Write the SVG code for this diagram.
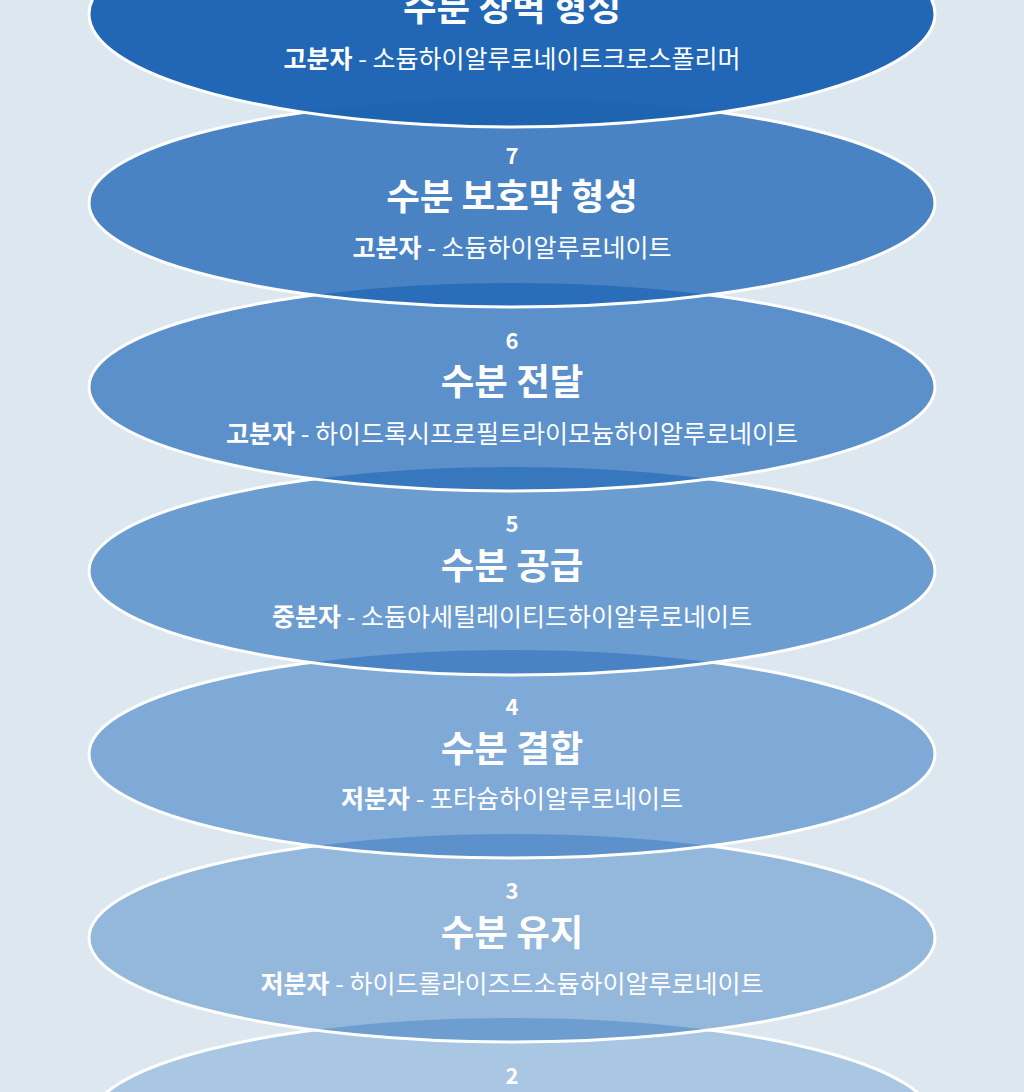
<svg xmlns="http://www.w3.org/2000/svg" width="1024" height="1092" viewBox="0 0 1024 1092">
<style>
.ring{stroke:#ffffff;stroke-width:3}
.edge{fill:none;stroke:#ffffff;stroke-width:3}
text{font-family:"Noto Sans CJK KR","Noto Sans",sans-serif;fill:#ffffff;text-anchor:middle;dominant-baseline:central}
.num{font-size:22px;font-weight:700}
.title{font-size:36.5px;font-weight:700}
.sub{font-size:25px;font-weight:400}
.b{font-weight:700}
</style>
<defs>
<clipPath id="c8"><ellipse cx="512" cy="14" rx="423" ry="113"/></clipPath>
<clipPath id="c7"><ellipse cx="512" cy="203" rx="423" ry="104"/></clipPath>
<clipPath id="c6"><ellipse cx="512" cy="387" rx="423" ry="104"/></clipPath>
<clipPath id="c5"><ellipse cx="512" cy="571" rx="423" ry="104"/></clipPath>
<clipPath id="c4"><ellipse cx="512" cy="754" rx="423" ry="104"/></clipPath>
<clipPath id="c3"><ellipse cx="512" cy="938" rx="423" ry="104"/></clipPath>
</defs>
<rect width="1024" height="1092" fill="#dde7ef"/>

<g id="node2">
<ellipse class="ring" cx="512" cy="1122" rx="423" ry="104" fill="#a9c6e2"/>
<text class="num" x="512" y="1074">2</text>
</g>

<g id="node3">
<ellipse cx="512" cy="938" rx="423" ry="104" fill="#94b7dc"/>
<ellipse cx="512" cy="1122" rx="423" ry="104" fill="#6d9ecf" clip-path="url(#c3)"/>
<ellipse class="edge" cx="512" cy="938" rx="423" ry="104"/>
<text class="num" x="512" y="889">3</text>
<text class="title" x="512" y="930">수분 유지</text>
<text class="sub" x="512" y="982"><tspan class="b">저분자</tspan> - 하이드롤라이즈드소듐하이알루로네이트</text>
</g>

<g id="node4">
<ellipse cx="512" cy="754" rx="423" ry="104" fill="#7faad7"/>
<ellipse cx="512" cy="938" rx="423" ry="104" fill="#5c91cb" clip-path="url(#c4)"/>
<ellipse class="edge" cx="512" cy="754" rx="423" ry="104"/>
<text class="num" x="512" y="705">4</text>
<text class="title" x="512" y="746">수분 결합</text>
<text class="sub" x="512" y="797"><tspan class="b">저분자</tspan> - 포타슘하이알루로네이트</text>
</g>

<g id="node5">
<ellipse cx="512" cy="571" rx="423" ry="104" fill="#6c9dd0"/>
<ellipse cx="512" cy="754" rx="423" ry="104" fill="#4a83c5" clip-path="url(#c5)"/>
<ellipse class="edge" cx="512" cy="571" rx="423" ry="104"/>
<text class="num" x="512" y="522">5</text>
<text class="title" x="512" y="563">수분 공급</text>
<text class="sub" x="512" y="615"><tspan class="b">중분자</tspan> - 소듐아세틸레이티드하이알루로네이트</text>
</g>

<g id="node6">
<ellipse cx="512" cy="387" rx="423" ry="104" fill="#5b90cb"/>
<ellipse cx="512" cy="571" rx="423" ry="104" fill="#3777bd" clip-path="url(#c6)"/>
<ellipse class="edge" cx="512" cy="387" rx="423" ry="104"/>
<text class="num" x="512" y="339">6</text>
<text class="title" x="512" y="379">수분 전달</text>
<text class="sub" x="512" y="432"><tspan class="b">고분자</tspan> - 하이드록시프로필트라이모늄하이알루로네이트</text>
</g>

<g id="node7">
<ellipse cx="512" cy="203" rx="423" ry="104" fill="#4a83c3"/>
<ellipse cx="512" cy="387" rx="423" ry="104" fill="#2a6db8" clip-path="url(#c7)"/>
<ellipse class="edge" cx="512" cy="203" rx="423" ry="104"/>
<text class="num" x="512" y="154">7</text>
<text class="title" x="512" y="194">수분 보호막 형성</text>
<text class="sub" x="512" y="246"><tspan class="b">고분자</tspan> - 소듐하이알루로네이트</text>
</g>

<g id="node8">
<ellipse cx="512" cy="14" rx="423" ry="113" fill="#2267b5"/>
<ellipse cx="512" cy="203" rx="423" ry="104" fill="#1f64b1" clip-path="url(#c8)"/>
<ellipse class="edge" cx="512" cy="14" rx="423" ry="113"/>
<text class="title" x="512" y="5">수분 장벽 형성</text>
<text class="sub" x="512" y="57"><tspan class="b">고분자</tspan> - 소듐하이알루로네이트크로스폴리머</text>
</g>
</svg>
